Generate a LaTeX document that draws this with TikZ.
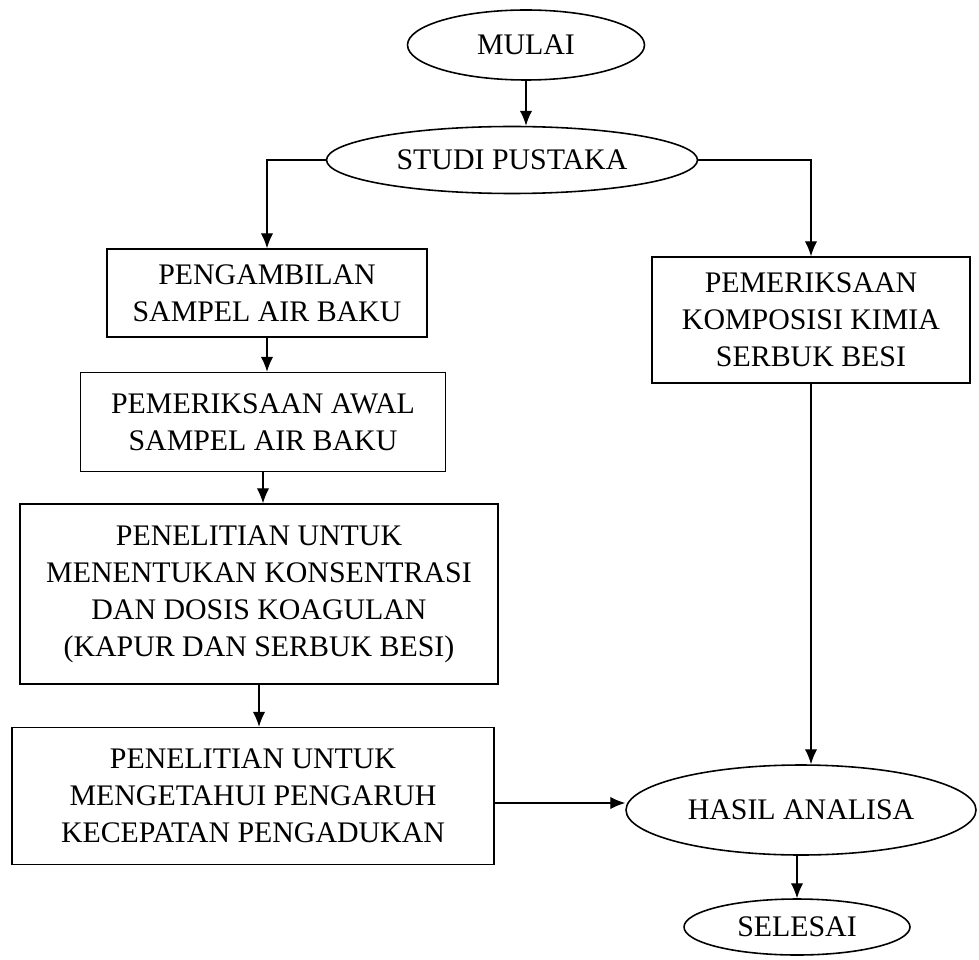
\documentclass[tikz,border=0pt]{standalone}
\usepackage{fontspec}
\setmainfont{Liberation Serif}
\usetikzlibrary{shapes.geometric,arrows.meta}
\tikzset{
  flowbox/.style={draw,line width=0.8pt,rectangle,align=center,inner sep=0pt,
    font=\fontsize{17}{21}\selectfont},
  terminal/.style={draw,line width=0.9pt,ellipse,inner sep=0pt,
    font=\fontsize{17}{21}\selectfont},
  boxsize/.style 2 args={minimum width=#1*0.5691pt,minimum height=#2*0.5691pt},
  arr/.style={line width=0.7pt,-{Latex[length=8.5pt,width=7pt]}}
}
\begin{document}
\begin{tikzpicture}[x=0.02cm,y=-0.02cm]
\useasboundingbox (0,0) rectangle (979,959);
% terminals
\node[terminal,boxsize={237}{70}] (mulai) at (526,45) {MULAI};
\node[terminal,boxsize={371}{67}] (studi) at (512,160) {STUDI PUSTAKA};
\node[terminal,boxsize={350}{90}] (hasil) at (801,810) {HASIL ANALISA};
\node[terminal,boxsize={226}{56}] (selesai) at (797,927) {SELESAI};
% process boxes
\node[flowbox,boxsize={320}{88}] (ambil) at (267,293) {PENGAMBILAN\\SAMPEL AIR BAKU};
\node[flowbox,boxsize={365}{99}] (awal) at (263,422) {PEMERIKSAAN AWAL\\SAMPEL AIR BAKU};
\node[flowbox,boxsize={478}{180}] (tentu) at (259,594) {PENELITIAN UNTUK\\MENENTUKAN KONSENTRASI\\DAN DOSIS KOAGULAN\\(KAPUR DAN SERBUK BESI)};
\node[flowbox,boxsize={482}{137}] (aduk) at (253,796) {PENELITIAN UNTUK\\MENGETAHUI PENGARUH\\KECEPATAN PENGADUKAN};
\node[flowbox,boxsize={318}{126}] (kompos) at (811,320) {PEMERIKSAAN\\KOMPOSISI KIMIA\\SERBUK BESI};
% connectors
\draw[arr] (mulai.south) -- (mulai.south |- studi.north);
\draw[arr] (studi.west) -| (ambil.north);
\draw[arr] (studi.east) -| (kompos.north);
\draw[arr] (ambil.south) -- (ambil.south |- awal.north);
\draw[arr] (awal.south) -- (awal.south |- tentu.north);
\draw[arr] (tentu.south) -- (tentu.south |- aduk.north);
\draw[arr] (aduk.east |- 0,803) -- (hasil.west |- 0,803);
\draw[arr] (kompos.south) -- (kompos.south |- hasil.north);
\draw[arr] (selesai.north |- hasil.south) -- (selesai.north);
\end{tikzpicture}
\end{document}
